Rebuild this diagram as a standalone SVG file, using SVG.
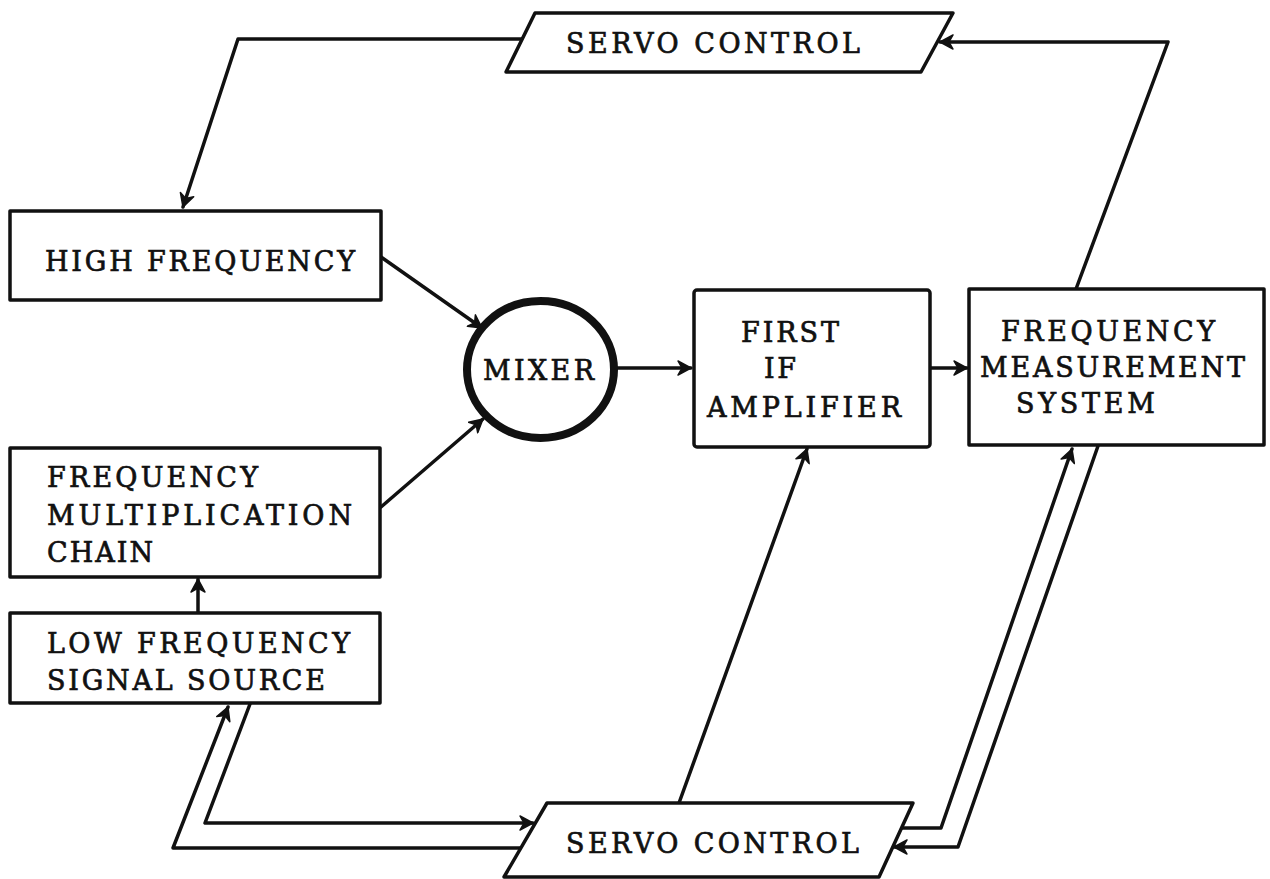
<svg xmlns="http://www.w3.org/2000/svg" width="1270" height="879" viewBox="0 0 1270 879">
  <style>
    .box { fill: #fff; stroke: #111; stroke-width: 3.5; stroke-linejoin: round; }
    .wire { fill: none; stroke: #111; stroke-width: 3.5; stroke-linejoin: round; stroke-linecap: round; }
    .lbl { font-family: "DejaVu Serif", "Liberation Serif", serif; font-size: 27px; fill: #111; stroke: #111; stroke-width: 0.7; }
  </style>
  <defs>
    <marker id="arr" viewBox="-14 -8 16 16" markerWidth="16" markerHeight="16" refX="0" refY="0" orient="auto" markerUnits="userSpaceOnUse">
      <path d="M0,0 L-13,-7 L-9,0 L-13,7 Z" fill="#111" stroke="#111" stroke-width="1.5" stroke-linejoin="round"/>
    </marker>
  </defs>
  <rect width="1270" height="879" fill="#fff"/>

  <!-- signal paths -->
  <g id="connectors">
    <!-- upper servo loop -->
    <polyline class="wire" points="522,39 238,39 183,207" marker-end="url(#arr)"/>
    <polyline class="wire" points="1076,289 1168,42 940,42" marker-end="url(#arr)"/>
    <!-- into mixer -->
    <line class="wire" x1="381" y1="257" x2="482" y2="328" marker-end="url(#arr)"/>
    <line class="wire" x1="381" y1="507" x2="483" y2="419" marker-end="url(#arr)"/>
    <!-- forward chain -->
    <line class="wire" x1="617" y1="368" x2="691" y2="368" marker-end="url(#arr)"/>
    <line class="wire" x1="930" y1="368" x2="967" y2="368" marker-end="url(#arr)"/>
    <line class="wire" x1="198" y1="613" x2="198" y2="579" marker-end="url(#arr)"/>
    <!-- lower servo loop -->
    <polyline class="wire" points="521,848 173,848 228,707" marker-end="url(#arr)"/>
    <polyline class="wire" points="250,704 205,823 533,823" marker-end="url(#arr)"/>
    <line class="wire" x1="679" y1="803" x2="807" y2="449" marker-end="url(#arr)"/>
    <polyline class="wire" points="902,828 941,828 1072,449" marker-end="url(#arr)"/>
    <polyline class="wire" points="1098,446 958,847 894,847" marker-end="url(#arr)"/>
  </g>

  <g id="servo-top">
    <polygon class="box" points="535,13 953,13 921,72 506,72"/>
    <text class="lbl" x="566" y="53" textLength="294" lengthAdjust="spacing">SERVO CONTROL</text>
  </g>

  <g id="high-frequency">
    <rect class="box" x="10" y="211" width="371" height="89"/>
    <text class="lbl" x="45" y="271" textLength="310" lengthAdjust="spacing">HIGH FREQUENCY</text>
  </g>

  <g id="mixer">
    <ellipse cx="540.5" cy="369.5" rx="73.5" ry="68.5" fill="#fff" stroke="#111" stroke-width="8"/>
    <text class="lbl" x="483" y="380" textLength="111" lengthAdjust="spacing">MIXER</text>
  </g>

  <g id="first-if-amplifier">
    <rect class="box" x="694" y="290" width="236" height="157" rx="3"/>
    <text class="lbl" x="741" y="342" textLength="98" lengthAdjust="spacing">FIRST</text>
    <text class="lbl" x="764" y="378" textLength="32" lengthAdjust="spacing">IF</text>
    <text class="lbl" x="707" y="417" textLength="194" lengthAdjust="spacing">AMPLIFIER</text>
  </g>

  <g id="frequency-measurement">
    <rect class="box" x="969" y="289" width="295" height="156"/>
    <text class="lbl" x="1001" y="341" textLength="214" lengthAdjust="spacing">FREQUENCY</text>
    <text class="lbl" x="980" y="377" textLength="265" lengthAdjust="spacing">MEASUREMENT</text>
    <text class="lbl" x="1016" y="413" textLength="139" lengthAdjust="spacing">SYSTEM</text>
  </g>

  <g id="frequency-multiplication">
    <rect class="box" x="10" y="448" width="370" height="129"/>
    <text class="lbl" x="47" y="487" textLength="211" lengthAdjust="spacing">FREQUENCY</text>
    <text class="lbl" x="47" y="525" textLength="305" lengthAdjust="spacing">MULTIPLICATION</text>
    <text class="lbl" x="47" y="562" textLength="106" lengthAdjust="spacing">CHAIN</text>
  </g>

  <g id="low-frequency-source">
    <rect class="box" x="10" y="613" width="370" height="90"/>
    <text class="lbl" x="47" y="653" textLength="303" lengthAdjust="spacing">LOW FREQUENCY</text>
    <text class="lbl" x="47" y="690" textLength="278" lengthAdjust="spacing">SIGNAL SOURCE</text>
  </g>

  <g id="servo-bottom">
    <polygon class="box" points="547,803 913,803 879,877 504,877"/>
    <text class="lbl" x="566" y="853" textLength="293" lengthAdjust="spacing">SERVO CONTROL</text>
  </g>
</svg>
